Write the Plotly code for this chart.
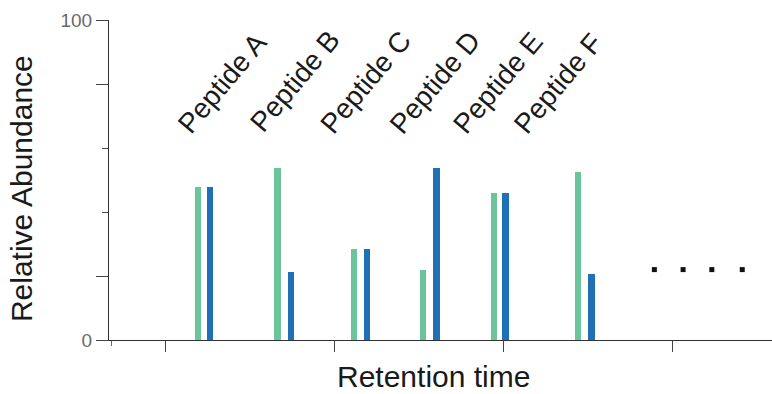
import plotly.graph_objects as go

# Data (retention time units, relative abundance 0-100)
peptides = ["Peptide A", "Peptide B", "Peptide C", "Peptide D", "Peptide E", "Peptide F"]
green_rt = [11.9, 16.6, 21.1, 25.2, 29.4, 34.4]
green_abund = [47.8, 53.8, 28.4, 21.9, 45.9, 52.5]
blue_rt = [12.6, 17.4, 21.9, 26.0, 30.1, 35.2]
blue_abund = [47.8, 21.3, 28.4, 53.8, 45.9, 20.6]
label_rt = [13.3, 17.6, 21.8, 25.9, 29.6, 33.2]
label_abund = [80.3, 80.9, 80.6, 80.6, 80.3, 80.3]
dots_rt = [38.9, 40.6, 42.3, 44.1]
dots_abund = [22, 22, 22, 22]
y_tickvals = [0, 20, 80, 100]
y_ticktext = ["0", "", "", "100"]
y_minor_tickvals = [40, 60]
x_tickvals = [10, 20, 30, 40]
x_minor_tickvals = [6.8]

GREEN = "#6cc49b"
BLUE = "#1f70b5"
FONT = "Liberation Sans, Arial, sans-serif"

fig = go.Figure()
fig.add_trace(go.Bar(x=green_rt, y=green_abund, width=[0.36] * len(green_rt),
                     marker=dict(color=GREEN, line=dict(width=0)), showlegend=False))
fig.add_trace(go.Bar(x=blue_rt, y=blue_abund, width=[0.4] * len(blue_rt),
                     marker=dict(color=BLUE, line=dict(width=0)), showlegend=False))
fig.add_trace(go.Scatter(x=dots_rt, y=dots_abund, mode="markers",
                         marker=dict(symbol="square", size=5, color="#111111"),
                         showlegend=False))

for name, xr, yr in zip(peptides, label_rt, label_abund):
    fig.add_annotation(x=xr, y=yr, xref="x", yref="y", text=name, showarrow=False,
                       textangle=-50, font=dict(family=FONT, size=28, color="#1a1a1a"))

# Axis titles placed as paper annotations
fig.add_annotation(x=0.489, y=-0.1125, xref="paper", yref="paper", text="Retention time",
                   showarrow=False, xanchor="center", yanchor="middle",
                   font=dict(family=FONT, size=30, color="#1a1a1a"))
fig.add_annotation(x=-0.131, y=0.472, xref="paper", yref="paper", text="Relative Abundance",
                   showarrow=False, xanchor="center", yanchor="middle", textangle=-90,
                   font=dict(family=FONT, size=30, color="#1a1a1a"))

fig.update_layout(
    width=772, height=394,
    margin=dict(l=109, r=0, t=20, b=54, autoexpand=False),
    paper_bgcolor="white", plot_bgcolor="white",
    barmode="overlay", bargap=0,
    font=dict(family=FONT),
)
fig.update_xaxes(range=[6.63, 45.86], showgrid=False, zeroline=False, automargin=False,
                 showline=True, linecolor="#333333", linewidth=1.2,
                 ticks="outside", ticklen=11, tickcolor="#444444",
                 tickvals=x_tickvals, showticklabels=False,
                 minor=dict(tickvals=x_minor_tickvals, ticks="outside", ticklen=5,
                            tickcolor="#666666", showgrid=False))
fig.update_yaxes(range=[0, 100], showgrid=False, zeroline=False, automargin=False,
                 showline=True, linecolor="#333333", linewidth=1.2,
                 ticks="outside", ticklen=12, tickcolor="#444444",
                 tickvals=y_tickvals, ticktext=y_ticktext,
                 tickfont=dict(family=FONT, size=19, color="#6a6a6a"),
                 minor=dict(tickvals=y_minor_tickvals, ticks="outside", ticklen=6,
                            tickcolor="#444444", showgrid=False))

fig.write_html("out.html", config={"displayModeBar": False},
               post_script="document.body.style.margin='0';document.body.style.overflow='hidden';")
